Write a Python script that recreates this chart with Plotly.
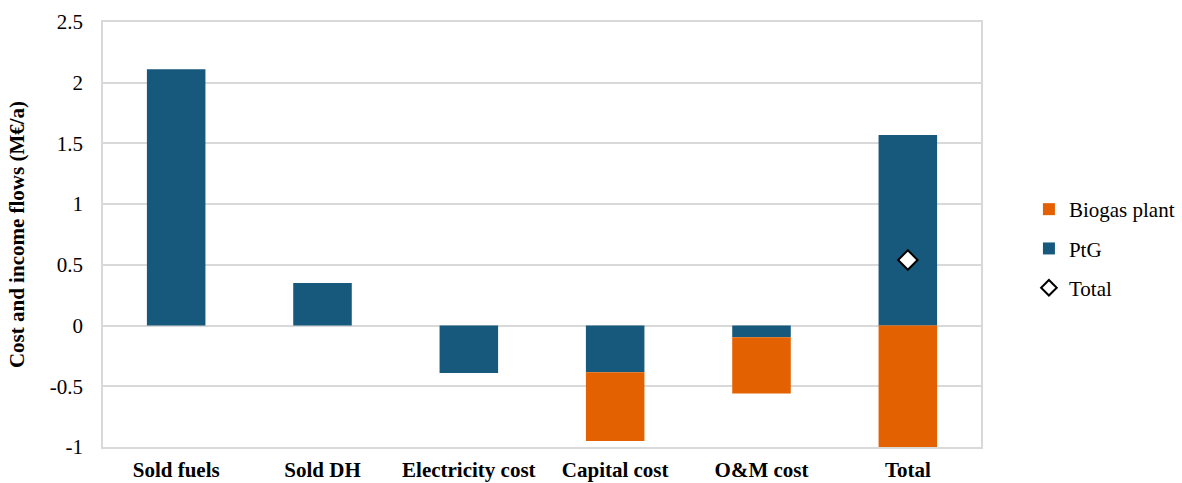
import plotly.graph_objects as go

categories = ["Sold fuels", "Sold DH", "Electricity cost", "Capital cost", "O&M cost", "Total"]
ptg = [2.11, 0.35, -0.39, -0.385, -0.096, 1.57]
biogas = [0, 0, 0, -0.565, -0.464, -1.01]
total_x = ["Total"]
total_y = [0.54]
y_ticks = [-1, -0.5, 0, 0.5, 1, 1.5, 2, 2.5]
y_tick_labels = ["-1", "-0.5", "0", "0.5", "1", "1.5", "2", "2.5"]

PTG_COLOR = "#17597c"
BIO_COLOR = "#e36100"
GRID = "#d9d9d9"
FONT = "Liberation Serif"
FS = 21

fig = go.Figure()
fig.add_trace(go.Bar(
    x=categories, y=ptg, name="PtG",
    marker=dict(color=PTG_COLOR, line=dict(width=0)),
    legendrank=2, legendgroup="b",
))
fig.add_trace(go.Bar(
    x=categories, y=biogas, name="Biogas plant",
    marker=dict(color=BIO_COLOR, line=dict(width=0)),
    legendrank=1, legendgroup="a",
))
fig.add_trace(go.Scatter(
    x=total_x, y=total_y, name="Total", mode="markers",
    marker=dict(symbol="diamond", size=15, color="white",
                line=dict(color="black", width=2)),
    legendrank=3, legendgroup="c",
))

fig.update_layout(
    width=1182, height=483,
    margin=dict(l=103, r=201, t=22, b=36),
    barmode="relative", bargap=0.6,
    plot_bgcolor="white", paper_bgcolor="white",
    font=dict(family=FONT, size=FS, color="black"),
    legend=dict(xref="container", yref="container",
                x=0.8705, y=0.4855, xanchor="left", yanchor="middle",
                font=dict(size=FS), tracegroupgap=9,
                itemsizing="constant", itemwidth=30),
    showlegend=True,
)
fig.update_xaxes(
    showgrid=False, showline=True, linecolor=GRID, linewidth=1.5, mirror=True,
    tickfont=dict(family=FONT, size=FS, color="black", weight="bold"),
    ticks="", ticklabelstandoff=3, automargin=False,
)
fig.update_yaxes(
    range=[-1, 2.5], tickvals=y_ticks, ticktext=y_tick_labels,
    showgrid=True, gridcolor=GRID, gridwidth=1.5,
    zeroline=True, zerolinecolor=GRID, zerolinewidth=1.5,
    showline=True, linecolor=GRID, linewidth=1.5, mirror=True,
    tickfont=dict(family=FONT, size=FS, color="black"),
    ticks="", ticklabelstandoff=14, automargin=False,
    title=dict(text="Cost and income flows (M€/a)",
               font=dict(family=FONT, size=FS, color="black", weight="bold"),
               standoff=19),
)

fig.write_html("out.html")
